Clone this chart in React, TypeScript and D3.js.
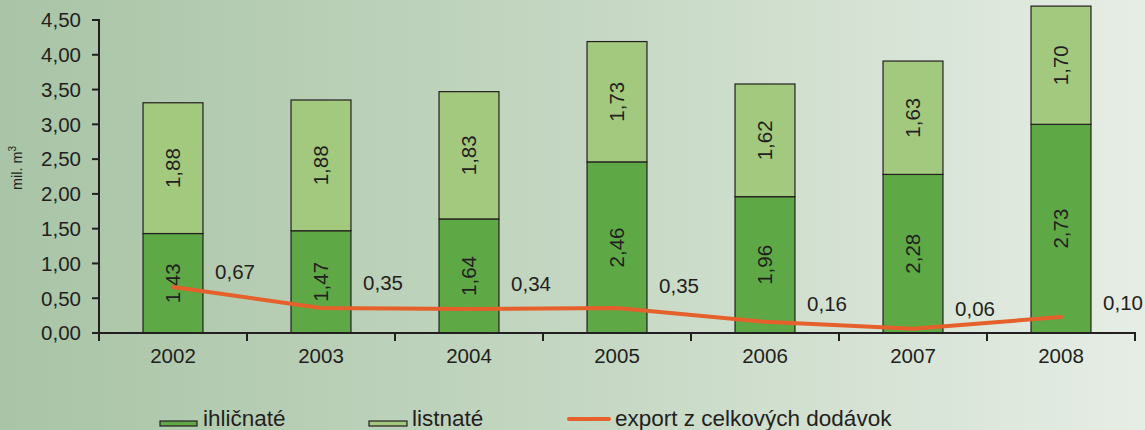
import React from "react";
import * as d3 from "d3";

const years = ["2002", "2003", "2004", "2005", "2006", "2007", "2008"];
// bar heights as drawn in the picture
const ihlicnate = [1.43, 1.47, 1.64, 2.46, 1.96, 2.28, 3.0];
const listnate = [1.88, 1.88, 1.83, 1.73, 1.62, 1.63, 1.7];
// printed labels
const ihlicnateLabels = ["1,43", "1,47", "1,64", "2,46", "1,96", "2,28", "2,73"];
const listnateLabels = ["1,88", "1,88", "1,83", "1,73", "1,62", "1,63", "1,70"];
const exportValues = [0.66, 0.36, 0.345, 0.36, 0.16, 0.06, 0.23];
const exportLabels = ["0,67", "0,35", "0,34", "0,35", "0,16", "0,06", "0,10"];
const yTicks = [0, 0.5, 1, 1.5, 2, 2.5, 3, 3.5, 4, 4.5];

// layout: vertical offset of the export labels' baselines relative to their points
const exportLabelDy = [-8, -18, -18, -15, -11, -13, -7];

const W = 1145;
const H = 430;
const left = 99;
const right = 1135;
const top = 20;
const bottom = 333;
const ink = "#231f20";
const dark = "#5fa846";
const light = "#a3c97e";
const orange = "#e5602b";
const font = "'Liberation Sans', Arial, sans-serif";
const fs = 20.5;

export default function App() {
  const x = d3.scaleBand<string>().domain(years).range([left, right]).paddingInner(0).paddingOuter(0);
  const y = d3.scaleLinear().domain([0, 4.5]).range([bottom, top]);
  const bw = x.bandwidth() * 0.405;
  const cx = (i: number) => (x(years[i]) as number) + x.bandwidth() / 2;
  const fmt = (v: number) => d3.format(".2f")(v).replace(".", ",");

  const line = d3
    .line<number>()
    .x((_, i) => cx(i))
    .y((d) => y(d));

  return (
    <svg
      width={W}
      height={H}
      style={{ position: "absolute", left: 0, top: 0, display: "block" }}
      fontFamily={font}
    >
      <defs>
        <linearGradient id="bg" x1="0" y1="0" x2="1" y2="0">
          <stop offset="0" stopColor="#a9c4a6" />
          <stop offset="0.5" stopColor="#c4d7c2" />
          <stop offset="1" stopColor="#e6ede5" />
        </linearGradient>
      </defs>
      <rect x={0} y={0} width={W} height={H} fill="url(#bg)" />

      {/* bars */}
      {years.map((yr, i) => {
        const x0 = cx(i) - bw / 2;
        const a = ihlicnate[i];
        const b = listnate[i];
        return (
          <g key={yr}>
            <rect x={x0} y={y(a)} width={bw} height={y(0) - y(a)} fill={dark} stroke={ink} strokeWidth={1.2} />
            <rect x={x0} y={y(a + b)} width={bw} height={y(a) - y(a + b)} fill={light} stroke={ink} strokeWidth={1.2} />
            <text
              transform={`translate(${cx(i) + 7},${(y(0) + y(a)) / 2}) rotate(-90)`}
              textAnchor="middle"
              fontSize={fs}
              fill={ink}
            >
              {ihlicnateLabels[i]}
            </text>
            <text
              transform={`translate(${cx(i) + 7},${(y(a) + y(a + b)) / 2}) rotate(-90)`}
              textAnchor="middle"
              fontSize={fs}
              fill={ink}
            >
              {listnateLabels[i]}
            </text>
          </g>
        );
      })}

      {/* export line */}
      <path d={line(exportValues) || ""} fill="none" stroke={orange} strokeWidth={4} strokeLinejoin="round" strokeLinecap="round" />
      {exportValues.map((v, i) => (
        <text
          key={"el" + i}
          x={cx(i) + 62}
          y={y(v) + exportLabelDy[i]}
          textAnchor="middle"
          fontSize={fs}
          fill={ink}
        >
          {exportLabels[i]}
        </text>
      ))}

      {/* y axis */}
      <line x1={left} x2={left} y1={top - 1} y2={bottom + 1} stroke={ink} strokeWidth={2} />
      {yTicks.map((t) => (
        <g key={"yt" + t}>
          <line x1={left - 7} x2={left} y1={y(t)} y2={y(t)} stroke={ink} strokeWidth={2} />
          <text x={81} y={y(t)} dy="0.36em" textAnchor="end" fontSize={fs} fill={ink}>
            {fmt(t)}
          </text>
        </g>
      ))}
      <text
        transform={`translate(22,168) rotate(-90)`}
        textAnchor="middle"
        fontSize={14.5}
        fill={ink}
      >
        mil. m<tspan dy={-6} fontSize={10}>3</tspan>
      </text>

      {/* x axis */}
      <line x1={left - 7} x2={right + 1} y1={bottom} y2={bottom} stroke={ink} strokeWidth={2} />
      {[...years.map((yr) => x(yr) as number), right].map((px, i) => (
        <line key={"xt" + i} x1={px} x2={px} y1={bottom} y2={bottom + 8} stroke={ink} strokeWidth={2} />
      ))}
      {years.map((yr, i) => (
        <text key={"xl" + yr} x={cx(i)} y={363} textAnchor="middle" fontSize={fs} fill={ink}>
          {yr}
        </text>
      ))}

      {/* legend */}
      <g fontSize={22.5} fill={ink}>
        <rect x={160} y={421} width={37} height={5} fill={dark} stroke={ink} strokeWidth={1.2} />
        <text x={203} y={426}>ihličnaté</text>
        <rect x={369} y={421} width={38} height={5} fill={light} stroke={ink} strokeWidth={1.2} />
        <text x={412} y={426}>listnaté</text>
        <line x1={569} x2={609} y1={419} y2={419} stroke={orange} strokeWidth={4} strokeLinecap="round" />
        <text x={615} y={426}>export z celkových dodávok</text>
      </g>
    </svg>
  );
}
